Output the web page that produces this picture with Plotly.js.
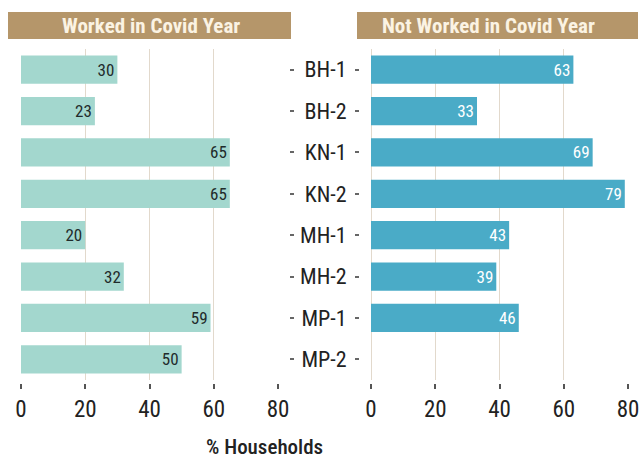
<!DOCTYPE html>
<html>
<head>
<meta charset="utf-8">
<script src="https://cdn.plot.ly/plotly-3.0.1.min.js"></script>
<style>html,body{margin:0;padding:0;background:#fff;}#chart{width:639px;height:461px;}</style>
</head>
<body>
<div id="chart"></div>
<script>
const categories = ["BH-1", "BH-2", "KN-1", "KN-2", "MH-1", "MH-2", "MP-1", "MP-2"];
const workedValues = [30, 23, 65, 65, 20, 32, 59, 50];
const notWorkedValues = [63, 33, 69, 79, 43, 39, 46, null];
const xTickValues = [0, 20, 40, 60, 80];
const leftTitle = "Worked in Covid Year";
const rightTitle = "Not Worked in Covid Year";
const axisTitle = "% Households";

const W = 639, H = 461;
const px = v => v / W;
const py = v => 1 - v / H;
const FONT = "Roboto Condensed, Open Sans Condensed, sans-serif";
const gridColor = "#e2d9cc";
const tan = "#b5966a";

const traces = [
  {
    type: "bar", orientation: "h",
    x: workedValues, y: categories,
    xaxis: "x", yaxis: "y",
    marker: {color: "#a3d7ce"},
    text: workedValues.map(v => v == null ? "" : String(v)),
    textposition: "inside", insidetextanchor: "end",
    textfont: {family: FONT, size: 17, color: "#1f2b2b", weight: "normal"},
    constraintext: "none",
    hoverinfo: "x+y", showlegend: false
  },
  {
    type: "bar", orientation: "h",
    x: notWorkedValues, y: categories,
    xaxis: "x2", yaxis: "y2",
    marker: {color: "#4aabc7"},
    text: notWorkedValues.map(v => v == null ? "" : String(v)),
    textposition: "inside", insidetextanchor: "end",
    textfont: {family: FONT, size: 17, color: "#ffffff", weight: "normal"},
    constraintext: "none",
    hoverinfo: "x+y", showlegend: false
  }
];

const yDomain = [py(380), py(49)];
const xCommon = {
  range: [0, 80], tickvals: xTickValues, ticktext: xTickValues.map(String),
  showgrid: true, gridcolor: gridColor, gridwidth: 1,
  zeroline: false, showline: false,
  ticks: "outside", ticklen: 5, tickwidth: 2, tickcolor: "#555",
  tickfont: {family: FONT, size: 23, color: "#222"},
  ticklabeloverflow: "allow",
  anchor: "free", position: py(383), fixedrange: true
};
const yCommon = {
  type: "category", categoryorder: "array", categoryarray: categories,
  range: [7.5, -0.5], domain: yDomain,
  showgrid: false, zeroline: false, showline: false,
  ticks: "outside", ticklen: 4, tickwidth: 2, tickcolor: "#666",
  anchor: "free", fixedrange: true
};

const layout = {
  width: W, height: H,
  margin: {l: 0, r: 0, t: 0, b: 0},
  paper_bgcolor: "#fff", plot_bgcolor: "rgba(0,0,0,0)",
  font: {family: FONT, color: "#222"},
  bargap: 0.32,
  xaxis: Object.assign({}, xCommon, {domain: [px(21), px(278)]}),
  xaxis2: Object.assign({}, xCommon, {domain: [px(371), px(628)], zeroline: true, zerolinecolor: gridColor, zerolinewidth: 1}),
  yaxis: Object.assign({}, yCommon, {side: "right", position: px(289), showticklabels: false}),
  yaxis2: Object.assign({}, yCommon, {side: "left", position: px(359), showticklabels: true,
    ticklabelstandoff: 4, tickfont: {family: FONT, size: 22, color: "#222"}}),
  shapes: [
    {type: "rect", xref: "paper", yref: "paper", x0: px(8), x1: px(291), y0: py(39), y1: py(12), fillcolor: tan, line: {width: 0}, layer: "below"},
    {type: "rect", xref: "paper", yref: "paper", x0: px(357), x1: px(638), y0: py(39), y1: py(12), fillcolor: tan, line: {width: 0}, layer: "below"}
  ],
  annotations: [
    {xref: "paper", yref: "paper", x: px(151), y: py(25.5), text: "<b>" + leftTitle + "</b>", showarrow: false,
      xanchor: "center", yanchor: "middle", font: {family: FONT, size: 21, color: "#fbf3e3"}},
    {xref: "paper", yref: "paper", x: px(488), y: py(25.5), text: "<b>" + rightTitle + "</b>", showarrow: false,
      xanchor: "center", yanchor: "middle", font: {family: FONT, size: 21, color: "#fbf3e3"}},
    {xref: "paper", yref: "paper", x: px(264), y: py(447), text: axisTitle, showarrow: false,
      xanchor: "center", yanchor: "middle", font: {family: FONT, size: 21, color: "#222", weight: 500}}
  ]
};

Plotly.newPlot("chart", traces, layout, {displayModeBar: false, staticPlot: true});
</script>
</body>
</html>
